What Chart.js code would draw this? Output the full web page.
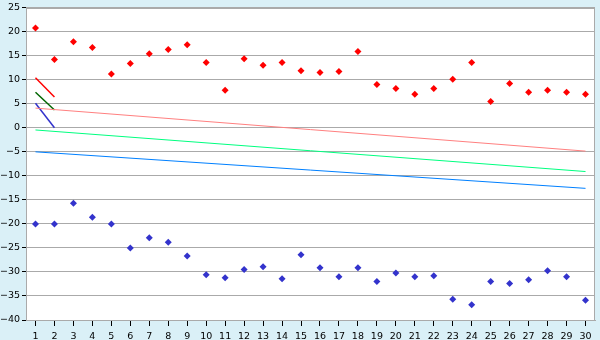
<!DOCTYPE html>
<html>
<head>
<meta charset="utf-8">
<script src="https://cdn.jsdelivr.net/npm/chart.js@4"></script>
<style>
  html, body { margin: 0; padding: 0; background: #daf0f7; }
  #wrap { width: 600px; height: 340px; }
</style>
</head>
<body>
<div id="wrap"><canvas id="chart" width="600" height="340"></canvas></div>
<script>
// categories and values
const categories = ['1','2','3','4','5','6','7','8','9','10','11','12','13','14','15','16','17','18','19','20','21','22','23','24','25','26','27','28','29','30'];
const redPoints = [20.8, 14.2, 17.9, 16.7, 11.2, 13.4, 15.4, 16.3, 17.3, 13.6, 7.8, 14.4, 13.0, 13.6, 11.9, 11.5, 11.7, 15.9, 9.0, 8.2, 7.0, 8.2, 10.1, 13.6, 5.5, 9.2, 7.4, 7.8, 7.4, 7.0];
const bluePoints = [-20.0, -20.0, -15.7, -18.6, -20.0, -25.0, -22.9, -23.8, -26.7, -30.6, -31.2, -29.5, -28.9, -31.4, -26.4, -29.1, -31.0, -29.1, -32.0, -30.2, -31.0, -30.8, -35.7, -36.8, -32.0, -32.4, -31.6, -29.75, -31.0, -35.9];
// short segments between the first two categories
const redShort = [10.4, 6.4];
const greenShort = [7.4, 3.7];
const blueShort = [5.1, 0.0];
// long trend lines: only the end values are known, the rest are gaps
const pinkEnds = [4.1, -4.85];
const greenEnds = [-0.45, -9.1];
const blueEnds = [-5.0, -12.6];
const yTicks = { min: -40, max: 25, step: 5 };

function ends(pair) {
  const arr = categories.map(() => null);
  arr[0] = pair[0];
  arr[arr.length - 1] = pair[1];
  return arr;
}

const plotFrame = {
  id: 'plotFrame',
  beforeDraw(chart) {
    const { ctx, chartArea: a } = chart;
    ctx.save();
    ctx.fillStyle = '#daf0f7';
    ctx.fillRect(0, 0, chart.width, chart.height);
    ctx.fillStyle = '#ffffff';
    ctx.fillRect(a.left, a.top, a.right - a.left, a.bottom - a.top);
    ctx.restore();
  },
  afterDatasetsDraw(chart) {
    const { ctx, chartArea: a } = chart;
    ctx.save();
    ctx.strokeStyle = '#aaaaaa';
    ctx.lineWidth = 1;
    ctx.strokeRect(Math.round(a.left) + 0.5, Math.round(a.top) + 0.5, Math.round(a.right - a.left) - 1, Math.round(a.bottom - a.top));
    ctx.restore();
  }
};

const lineDs = (data, color, width) => ({
  type: 'line', data, borderColor: color, borderWidth: width,
  pointRadius: 0, fill: false, spanGaps: true, tension: 0
});
const dotDs = (data, color) => ({
  type: 'line', data, showLine: false, pointStyle: 'rectRot',
  pointRadius: 3.5, pointBackgroundColor: color, pointBorderColor: color, borderWidth: 0
});

new Chart(document.getElementById('chart'), {
  type: 'line',
  data: {
    labels: categories,
    datasets: [
      lineDs(ends(pinkEnds), '#ff8080', 1),
      lineDs(ends(greenEnds), '#00ff80', 1),
      lineDs(ends(blueEnds), '#0080ff', 1),
      lineDs(redShort, '#ff0000', 1.5),
      lineDs(greenShort, '#006600', 1.5),
      lineDs(blueShort, '#3333cc', 1.5),
      dotDs(redPoints, '#ff0000'),
      dotDs(bluePoints, '#3333cc')
    ]
  },
  options: {
    responsive: false,
    animation: false,
    layout: { padding: { top: 5, right: 5, left: 0, bottom: 0 } },
    plugins: { legend: { display: false }, tooltip: { enabled: false } },
    scales: {
      x: {
        offset: true,
        grid: { drawOnChartArea: false, drawTicks: true, tickLength: 6, tickColor: '#000', offset: false },
        border: { color: '#aaaaaa' },
        ticks: { color: '#000', font: { family: 'DejaVu Sans', size: 9.5 }, padding: 5, maxRotation: 0, autoSkip: false },
        afterFit(s) { s.height = 20; }
      },
      y: {
        min: yTicks.min, max: yTicks.max,
        grid: { color: '#aaaaaa', tickColor: '#000', tickLength: 4 },
        border: { color: '#aaaaaa' },
        ticks: {
          stepSize: yTicks.step, color: '#000', padding: 2,
          font: { family: 'DejaVu Sans', size: 9.5 },
          callback: v => String(v).replace('-', '\u2212')
        },
        afterFit(s) { s.width = 26; }
      }
    }
  },
  plugins: [plotFrame]
});
</script>
</body>
</html>
